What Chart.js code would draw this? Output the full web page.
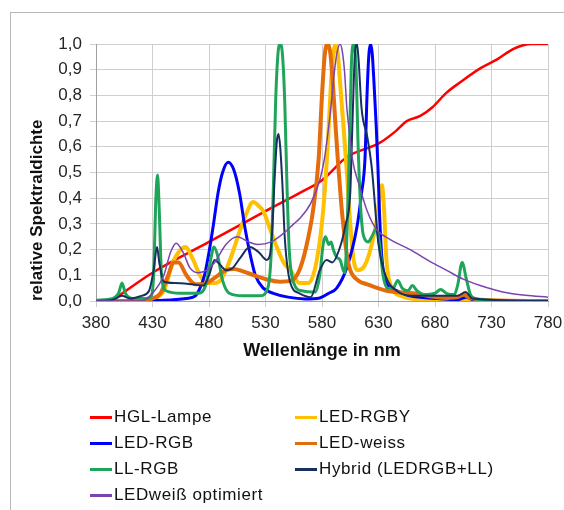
<!DOCTYPE html>
<html>
<head>
<meta charset="utf-8">
<script src="https://cdn.jsdelivr.net/npm/chart.js@4"></script>
<style>
  body { margin: 0; background: #fff; width: 564px; height: 510px; overflow: hidden; position: relative; }
  #frame { position: absolute; left: 10px; top: 12px; width: 560px; height: 510px;
           border-top: 1px solid #b8b8b8; border-left: 1px solid #b8b8b8; }
  #legend { position: absolute; left: 90px; top: 404px; display: grid;
            grid-template-columns: 205px 240px; grid-auto-rows: 26px;
            font-family: "Liberation Sans", Arial, sans-serif; font-size: 17px; letter-spacing: 0.6px; color: #111; }
  #legend .item { display: flex; align-items: center; white-space: nowrap; }
  #legend .swatch { width: 22px; height: 3px; margin-right: 2px; }
</style>
</head>
<body>
<div id="frame"></div>
<canvas id="spectrum" width="564" height="380"></canvas>
<div id="legend"></div>
<script>
// HGL-Lampe
const hglNm = [380, 390, 395, 400, 430, 480, 530, 560, 580, 602, 631, 645, 655, 667, 678, 690, 702, 720, 735, 749, 758, 765, 780];
const hglVal = [0, 0, 0.005, 0.02, 0.11, 0.23, 0.35, 0.42, 0.47, 0.56, 0.615, 0.66, 0.70, 0.72, 0.755, 0.81, 0.85, 0.905, 0.94, 0.98, 0.995, 1.0, 1.0];

// LED-RGBY
const rgbyNm = [380, 425, 432, 440, 448, 453, 459, 466, 472, 478, 485, 490, 495, 501, 507, 513, 519, 524, 528, 534, 540, 546, 552, 560, 568, 575, 581, 585, 588, 590, 592, 594, 596, 599, 602, 605, 608, 612, 618, 624, 629, 631, 633, 635, 637, 642, 650, 670, 780];
const rgbyVal = [0, 0, 0.01, 0.04, 0.15, 0.19, 0.21, 0.16, 0.1, 0.07, 0.07, 0.08, 0.12, 0.19, 0.27, 0.34, 0.385, 0.37, 0.35, 0.28, 0.21, 0.15, 0.12, 0.07, 0.07, 0.15, 0.35, 0.6, 0.85, 0.96, 1.0, 0.96, 0.85, 0.68, 0.5, 0.3, 0.16, 0.12, 0.14, 0.22, 0.33, 0.41, 0.45, 0.35, 0.16, 0.05, 0.02, 0.005, 0];

// LED-RGB
const rgbNm = [380, 440, 460, 468, 472, 476, 480, 484, 488, 492, 497, 502, 507, 512, 517, 521, 528, 537, 550, 565, 578, 586, 593, 602, 611, 615, 618, 620, 621.5, 623, 624.5, 626, 628, 629.5, 631, 633, 636, 642, 649, 658, 680, 700, 708, 715, 780];
const rgbVal = [0, 0.003, 0.01, 0.02, 0.05, 0.1, 0.19, 0.3, 0.42, 0.5, 0.54, 0.51, 0.42, 0.28, 0.17, 0.1, 0.05, 0.03, 0.015, 0.008, 0.012, 0.03, 0.05, 0.13, 0.29, 0.42, 0.55, 0.82, 0.96, 1.0, 0.96, 0.85, 0.68, 0.52, 0.33, 0.17, 0.08, 0.05, 0.035, 0.02, 0.01, 0.005, 0.015, 0.003, 0];

// LED-weiss
const weissNm = [380, 420, 430, 437, 443, 449, 453, 460, 468, 475, 485, 495, 502, 510, 520, 530, 543, 553, 560, 566, 572, 577, 580, 582.5, 585, 587.5, 590, 592, 594, 597, 599, 602, 605, 612, 620, 637, 660, 690, 700, 705, 710, 720, 780];
const weissVal = [0, 0, 0.01, 0.03, 0.09, 0.15, 0.15, 0.1, 0.065, 0.065, 0.09, 0.12, 0.125, 0.115, 0.1, 0.085, 0.075, 0.08, 0.12, 0.21, 0.35, 0.55, 0.8, 0.96, 1.0, 0.96, 0.82, 0.68, 0.55, 0.38, 0.29, 0.18, 0.12, 0.08, 0.065, 0.04, 0.03, 0.012, 0.015, 0.025, 0.015, 0.005, 0];

// LL-RGB
const llNm = [380, 395, 400, 403, 406, 412, 425, 429, 431, 433, 434.5, 436, 438, 442, 455, 470, 477, 481, 484.5, 488, 492, 498, 510, 525, 532, 535, 537, 539, 541, 543, 545, 547, 549, 551, 555, 562, 574, 578, 581, 583, 586, 588, 590, 593, 596, 600, 602, 604, 606, 608, 610, 612, 614, 616, 618, 621, 624, 628, 631, 634, 638, 643, 647, 651, 656, 660, 664, 670, 680, 685, 690, 697, 700, 704, 708, 712, 720, 780];
const llVal = [0.003, 0.01, 0.03, 0.07, 0.03, 0.01, 0.01, 0.02, 0.1, 0.4, 0.49, 0.35, 0.1, 0.04, 0.03, 0.03, 0.06, 0.15, 0.21, 0.17, 0.08, 0.03, 0.02, 0.02, 0.05, 0.18, 0.45, 0.78, 0.96, 1.0, 0.96, 0.78, 0.45, 0.2, 0.07, 0.04, 0.035, 0.1, 0.22, 0.25, 0.22, 0.23, 0.2, 0.17, 0.16, 0.11, 0.25, 0.55, 0.92, 1.0, 0.92, 0.6, 0.38, 0.27, 0.24, 0.23, 0.25, 0.28, 0.22, 0.1, 0.05, 0.05, 0.08, 0.05, 0.04, 0.06, 0.04, 0.025, 0.03, 0.045, 0.03, 0.025, 0.06, 0.15, 0.08, 0.02, 0.005, 0];

// Hybrid (LEDRGB+LL)
const hybridNm = [380, 395, 403, 410, 420, 427, 431, 434, 436, 440, 450, 465, 475, 480, 485, 490, 495, 500, 508, 516, 524, 531, 534, 536, 538, 540, 541.5, 543, 545, 547, 552, 560, 570, 578, 584, 589, 596, 601, 605, 607, 609, 611, 612.5, 615, 620, 624, 630, 637, 646, 660, 700, 707, 713, 780];
const hybridVal = [0, 0.005, 0.02, 0.01, 0.02, 0.04, 0.12, 0.21, 0.15, 0.075, 0.07, 0.065, 0.06, 0.1, 0.16, 0.14, 0.12, 0.125, 0.17, 0.21, 0.19, 0.16, 0.18, 0.28, 0.47, 0.62, 0.65, 0.6, 0.45, 0.25, 0.07, 0.03, 0.015, 0.12, 0.16, 0.15, 0.21, 0.3, 0.42, 0.7, 0.95, 1.0, 0.93, 0.75, 0.64, 0.52, 0.22, 0.09, 0.04, 0.02, 0.02, 0.035, 0.01, 0];

// LEDweiß optimiert
const optNm = [380, 420, 430, 440, 446, 451, 457, 463, 470, 478, 485, 495, 505, 515, 523, 535, 545, 555, 560, 570, 578, 582, 587, 590, 592, 594, 596, 598, 600, 602, 605, 607, 613, 620, 628, 640, 658, 675, 690, 705, 720, 740, 760, 780];
const optVal = [0, 0, 0.03, 0.1, 0.19, 0.225, 0.19, 0.13, 0.11, 0.12, 0.15, 0.22, 0.25, 0.23, 0.22, 0.23, 0.26, 0.3, 0.32, 0.38, 0.47, 0.55, 0.72, 0.85, 0.93, 0.98, 1.0, 0.97, 0.89, 0.75, 0.63, 0.55, 0.45, 0.35, 0.28, 0.24, 0.2, 0.155, 0.12, 0.085, 0.06, 0.035, 0.022, 0.015];

const xTicks = [380, 430, 480, 530, 580, 630, 680, 730, 780];

const toPoints = (nm, val) => nm.map((x, i) => ({ x: x, y: val[i] }));

// legend order (two columns, row by row)
const series = [
  { label: "HGL-Lampe", nm: hglNm, val: hglVal, color: "#ff0000", width: 2.5 },
  { label: "LED-RGBY", nm: rgbyNm, val: rgbyVal, color: "#ffc000", width: 4 },
  { label: "LED-RGB", nm: rgbNm, val: rgbVal, color: "#0000ff", width: 3 },
  { label: "LED-weiss", nm: weissNm, val: weissVal, color: "#e46c0a", width: 4 },
  { label: "LL-RGB", nm: llNm, val: llVal, color: "#1fa55a", width: 3 },
  { label: "Hybrid (LEDRGB+LL)", nm: hybridNm, val: hybridVal, color: "#17305e", width: 2 },
  { label: "LEDweiß optimiert", nm: optNm, val: optVal, color: "#7a44b0", width: 1.5 },
];

const tickFont = { family: "'Liberation Sans', Arial, sans-serif", size: 17 };
const titleFont = { family: "'Liberation Sans', Arial, sans-serif", size: 17, weight: "bold" };

const ctx = document.getElementById("spectrum").getContext("2d");
const spectrumChart = new Chart(ctx, {
  type: "line",
  data: {
    datasets: series.map((s, i) => ({
      label: s.label,
      data: toPoints(s.nm, s.val),
      borderColor: s.color,
      backgroundColor: s.color,
      borderWidth: s.width,
      pointRadius: 0,
      cubicInterpolationMode: "monotone",
      fill: false,
      order: series.length - i,
    })),
  },
  options: {
    responsive: false,
    animation: false,
    devicePixelRatio: 1,
    layout: { padding: { left: 14, right: 16, top: 44, bottom: 0 } },
    plugins: { legend: { display: false }, tooltip: { enabled: false } },
    scales: {
      x: {
        type: "linear",
        min: 380,
        max: 780,
        afterBuildTicks: (scale) => { scale.ticks = xTicks.map((v) => ({ value: v })); },
        afterFit: (scale) => {
          scale.height = 79;
          scale.paddingLeft = 0;
          scale.paddingRight = 0;
        },
        ticks: { font: tickFont, color: "#262626", padding: 6, maxRotation: 0 },
        grid: { color: "#cfcfcf", tickLength: 6 },
        border: { color: "#a0a0a0" },
        title: { display: true, text: "Wellenlänge in nm", font: { ...titleFont, size: 18 }, color: "#111", padding: { top: 0, bottom: 18 } },
      },
      y: {
        min: 0,
        max: 1,
        afterFit: (scale) => { scale.width = 82; },
        ticks: {
          stepSize: 0.1,
          font: tickFont,
          color: "#262626",
          padding: 8,
          callback: (v) => v.toFixed(1).replace(".", ","),
        },
        grid: { color: "#cfcfcf", tickLength: 6 },
        border: { color: "#a0a0a0" },
        title: { display: true, text: "relative Spektraldichte", align: "start", font: titleFont, color: "#111", padding: { top: 13, bottom: 0 } },
      },
    },
  },
});

// HTML legend in two columns
const legendBox = document.getElementById("legend");
series.forEach((s) => {
  const item = document.createElement("div");
  item.className = "item";
  const sw = document.createElement("span");
  sw.className = "swatch";
  sw.style.background = s.color;
  const txt = document.createElement("span");
  txt.textContent = s.label;
  item.appendChild(sw);
  item.appendChild(txt);
  legendBox.appendChild(item);
});
</script>
</body>
</html>
